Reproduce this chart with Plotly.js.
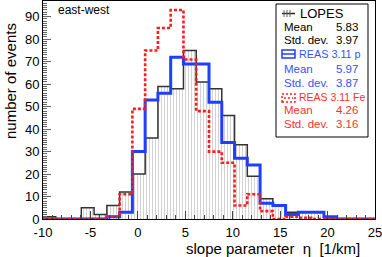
<!DOCTYPE html>
<html><head><meta charset="utf-8">
<script src="https://cdn.plot.ly/plotly-3.0.1.min.js"></script>
<style>html,body{margin:0;padding:0;background:#fff}#chart{width:382px;height:257px}</style>
</head><body><div id="chart"></div>
<script>
// ---- data ----
const binStart = -10, binEnd = 25, nBins = 26;
const lopes  = [1,0,0,5,2,6,12,20,36,59,58,75,61,58,46,33,19,9,6,3,3,3,0,0,0,0];
const reasP  = [0,0,0,0,0,1,3,30,53,56,72,69,69,52,34,27,24,7,6,2,3,3,1,0,0,0];
const reasFe = [0,0,0,0,0,1,11,49,75,85,93,71,48,30,25,6,11,3.5,0,1,0.5,0,0,0,0,0];
const seriesNames = ['LOPES','REAS 3.11 p','REAS 3.11 Fe'];
const meanLabel = 'Mean', stdLabel = 'Std. dev.';
const means   = ['5.83','5.97','4.26'];
const stdDevs = ['3.97','3.87','3.16'];
const xTickVals = [-10,-5,0,5,10,15,20,25];
const xTickText = ['-10','-5','0','5','10','15','20','25'];
const yTickVals = [0,10,20,30,40,50,60,70,80,90];
const yTickText = ['0','10','20','30','40','50','60','70','80','90'];
const panelLabel = 'east-west';
const xTitle = 'slope parameter \u00a0\u03b7\u00a0 [1/km]';
const yTitle = 'number of events';

// ---- geometry helpers ----
const W = 382, H = 257, ML = 43, MR = 7, MT = 1, MB = 38;
const PW = W - ML - MR, PH = H - MT - MB;
const px = x => (x - ML) / PW;            // pixel -> paper x
const py = y => (H - MB - y) / PH;        // pixel -> paper y

const bw = (binEnd - binStart) / nBins;
const edges = Array.from({length: nBins + 1}, (_, i) => binStart + i * bw);
const centers = edges.slice(0, nBins).map(e => e + bw / 2);
function step(vals) {
  return { x: [edges[0]].concat(edges.slice(0, nBins)).concat([edges[nBins]]),
           y: [0].concat(vals).concat([0]) };
}

const BLUE = '#1f3fff', RED = '#ff1c1c', BLUE_T = '#3355ff', RED_T = '#ff3030';
const FONT = 'Liberation Sans, Arial, Helvetica, sans-serif';

const sL = step(lopes), sP = step(reasP), sF = step(reasFe);
const traces = [
  { type: 'bar', x: centers, y: lopes, width: bw, hoverinfo: 'skip', showlegend: false,
    marker: { color: 'white', line: { width: 0 },
      pattern: { shape: '|', fgcolor: '#cdcdcd', bgcolor: 'white', size: 3, solidity: 0.3 } } },
  { type: 'scatter', mode: 'lines', x: sL.x, y: sL.y, line: { shape: 'hv', color: '#333', width: 1.5 }, showlegend: false, name: seriesNames[0] },
  { type: 'scatter', mode: 'lines', x: sP.x, y: sP.y, line: { shape: 'hv', color: BLUE, width: 3 }, showlegend: false, name: seriesNames[1] },
  { type: 'scatter', mode: 'lines', x: sF.x, y: sF.y, line: { shape: 'hv', color: RED, width: 2.6, dash: '3px,2px' }, showlegend: false, name: seriesNames[2] }
];

// ---- legend box (drawn manually) ----
const shapes = [
  { type: 'rect', xref: 'paper', yref: 'paper', x0: px(276), x1: px(368), y0: py(137), y1: py(4),
    line: { color: '#000', width: 1 }, fillcolor: 'white', layer: 'above' },
  { type: 'line', xref: 'paper', yref: 'paper', x0: px(282), x1: px(295), y0: py(13.5), y1: py(13.5), line: { color: '#222', width: 1.5 } },
  { type: 'rect', xref: 'paper', yref: 'paper', x0: px(282), x1: px(295), y0: py(58), y1: py(50), line: { color: BLUE, width: 1.5 } },
  { type: 'line', xref: 'paper', yref: 'paper', x0: px(282), x1: px(295), y0: py(54), y1: py(54), line: { color: BLUE, width: 1.5 } },
  { type: 'rect', xref: 'paper', yref: 'paper', x0: px(282), x1: px(295), y0: py(102), y1: py(94), line: { color: RED, width: 1.5, dash: '2px,2px' } },
  { type: 'line', xref: 'paper', yref: 'paper', x0: px(284), x1: px(293), y0: py(98), y1: py(98), line: { color: RED, width: 1.5, dash: '2px,2px' } }
];
[284, 287, 290].forEach(xx => shapes.push({ type: 'line', xref: 'paper', yref: 'paper',
  x0: px(xx), x1: px(xx), y0: py(17), y1: py(10), line: { color: '#666', width: 1 } }));

const ann = (text, x, y, opts) => Object.assign({ text, xref: 'paper', yref: 'paper', x: px(x), y: py(y),
  showarrow: false, xanchor: 'left', yanchor: 'middle', font: { family: FONT, size: 11.5, color: '#000' } }, opts || {});
const annotations = [
  ann(panelLabel, 56, 10, { font: { family: FONT, size: 12, color: '#000' } }),
  ann(seriesNames[0], 298, 13.5, { font: { family: FONT, size: 13, color: '#000' } }),
  ann(meanLabel, 282, 27), ann(means[0], 360, 27, { xanchor: 'right' }),
  ann(stdLabel, 282, 40.5), ann(stdDevs[0], 360, 40.5, { xanchor: 'right' }),
  ann(seriesNames[1], 297, 54, { font: { family: FONT, size: 10.8, color: BLUE_T } }),
  ann(meanLabel, 282, 69, { font: { family: FONT, size: 11.5, color: BLUE_T } }),
  ann(means[1], 360, 69, { xanchor: 'right', font: { family: FONT, size: 11.5, color: BLUE_T } }),
  ann(stdLabel, 282, 82.5, { font: { family: FONT, size: 11.5, color: BLUE_T } }),
  ann(stdDevs[1], 360, 82.5, { xanchor: 'right', font: { family: FONT, size: 11.5, color: BLUE_T } }),
  ann(seriesNames[2], 297, 97.5, { font: { family: FONT, size: 10.5, color: RED_T } }),
  ann(meanLabel, 282, 110.5, { font: { family: FONT, size: 11.5, color: RED_T } }),
  ann(means[2], 360, 110.5, { xanchor: 'right', font: { family: FONT, size: 11.5, color: RED_T } }),
  ann(stdLabel, 282, 124, { font: { family: FONT, size: 11.5, color: RED_T } }),
  ann(stdDevs[2], 360, 124, { xanchor: 'right', font: { family: FONT, size: 11.5, color: RED_T } }),
  ann(xTitle, 362, 248, { xanchor: 'right', font: { family: FONT, size: 15, color: '#000' } }),
  ann(yTitle, 10, 81, { xanchor: 'center', textangle: -90, font: { family: FONT, size: 15, color: '#000' } })
];

const layout = {
  width: W, height: H,
  margin: { l: ML, r: MR, t: MT, b: MB, pad: 0 },
  paper_bgcolor: 'white', plot_bgcolor: 'white',
  bargap: 0, showlegend: false,
  font: { family: FONT, size: 13, color: '#000' },
  xaxis: { range: [binStart, binEnd], tickmode: 'array', tickvals: xTickVals, ticktext: xTickText,
    ticks: 'inside', ticklen: 8, tickwidth: 1, tickcolor: '#444', showgrid: false, zeroline: false,
    showline: true, linecolor: '#000', linewidth: 1, mirror: true, ticklabeloverflow: 'allow',
    ticklabelstandoff: 1,
    tickfont: { family: FONT, size: 13, color: '#000' },
    minor: { dtick: 1, tick0: 0, ticks: 'inside', ticklen: 4, tickcolor: '#444', showgrid: false } },
  yaxis: { range: [0, 97], tickmode: 'array', tickvals: yTickVals, ticktext: yTickText,
    ticks: 'inside', ticklen: 8, tickwidth: 1, tickcolor: '#666', showgrid: false, zeroline: false,
    showline: true, linecolor: '#000', linewidth: 1, mirror: true, ticklabeloverflow: 'allow',
    tickfont: { family: FONT, size: 13, color: '#000' },
    minor: { dtick: 1, tick0: 0, ticks: 'inside', ticklen: 3.5, tickcolor: '#666', showgrid: false } },
  shapes, annotations
};

Plotly.newPlot('chart', traces, layout, { staticPlot: true, displayModeBar: false });
</script>
</body></html>
